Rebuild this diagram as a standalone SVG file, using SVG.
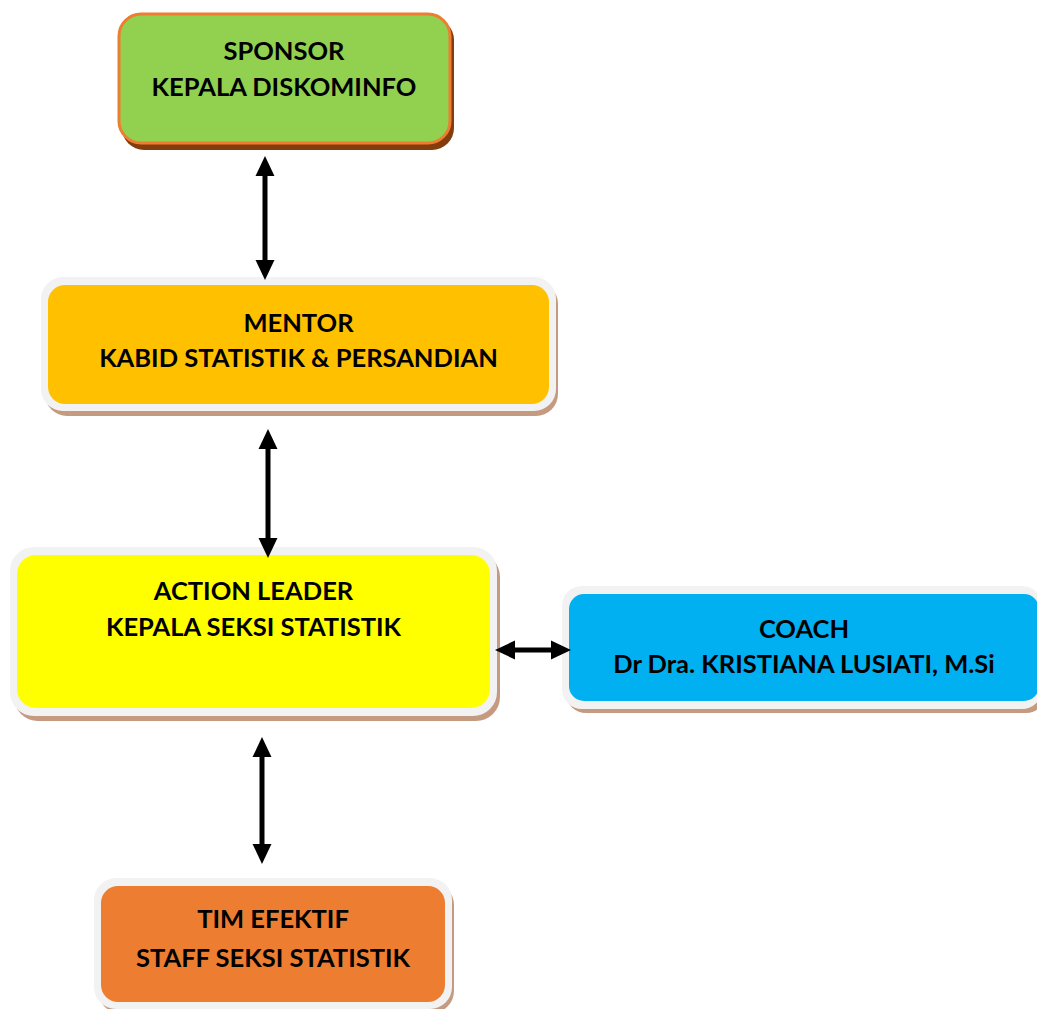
<svg xmlns="http://www.w3.org/2000/svg" width="1037" height="1009" viewBox="0 0 1037 1009">
<defs>
<style>
.t{font-family:Lato,"Liberation Sans",sans-serif;font-weight:bold;font-size:25.5px;fill:#000;text-anchor:middle}
.frame{fill:#F2F2F2}
.sh{fill:#C49A80}
.con{stroke:#000;stroke-width:5;fill:none;marker-start:url(#ah);marker-end:url(#ah)}
</style>
<marker id="ah" markerUnits="userSpaceOnUse" markerWidth="20" markerHeight="20" viewBox="0 0 19 18" refX="0" refY="9" orient="auto-start-reverse">
<path d="M0,0 L19,9 L0,18 Z" fill="#000"/>
</marker>
</defs>
<rect width="1037" height="1009" fill="#fff"/>
<g id="sponsor">
<rect x="122" y="18" width="332" height="132" rx="22" fill="#843C0C"/>
<rect x="119" y="14" width="331" height="129" rx="22" fill="#92D050" stroke="#ED7D31" stroke-width="3"/>
<text class="t" x="284" y="60">SPONSOR</text>
<text class="t" x="284" y="96">KEPALA DISKOMINFO</text>
</g>
<g id="mentor">
<rect class="sh" x="45" y="282" width="513" height="134" rx="22"/>
<rect class="frame" x="41" y="277" width="515" height="134" rx="22"/>
<rect x="48" y="285" width="501" height="119" rx="17" fill="#FFC000"/>
<text class="t" x="298.5" y="332">MENTOR</text>
<text class="t" x="298.5" y="367">KABID STATISTIK &amp; PERSANDIAN</text>
</g>
<g id="action-leader">
<rect class="sh" x="14" y="553" width="486" height="168" rx="24"/>
<rect class="frame" x="10" y="547" width="487" height="169" rx="24"/>
<rect x="17" y="555" width="473" height="153" rx="19" fill="#FFFF00"/>
<text class="t" x="253.5" y="600">ACTION LEADER</text>
<text class="t" x="253.5" y="636">KEPALA SEKSI STATISTIK</text>
</g>
<g id="coach">
<rect class="sh" x="566" y="591" width="480" height="122" rx="20"/>
<rect class="frame" x="562" y="586" width="480" height="123" rx="20"/>
<rect x="569" y="594" width="470" height="107" rx="15" fill="#00B0F0"/>
<text class="t" x="804" y="638">COACH</text>
<text class="t" x="804" y="673">Dr Dra. KRISTIANA LUSIATI, M.Si</text>
</g>
<g id="tim-efektif">
<rect class="sh" x="98" y="883" width="356" height="130" rx="22"/>
<rect class="frame" x="94" y="878" width="358" height="131" rx="22"/>
<rect x="101" y="886" width="344" height="116" rx="17" fill="#ED7D31"/>
<text class="t" x="273" y="928">TIM EFEKTIF</text>
<text class="t" x="273" y="967">STAFF SEKSI STATISTIK</text>
</g>
<g id="connectors">
<line class="con" x1="265" y1="176" x2="265" y2="260"/>
<line class="con" x1="268" y1="449" x2="268" y2="538"/>
<line class="con" x1="515" y1="650" x2="551" y2="650"/>
<line class="con" x1="262" y1="757" x2="262" y2="844"/>
</g>
</svg>
